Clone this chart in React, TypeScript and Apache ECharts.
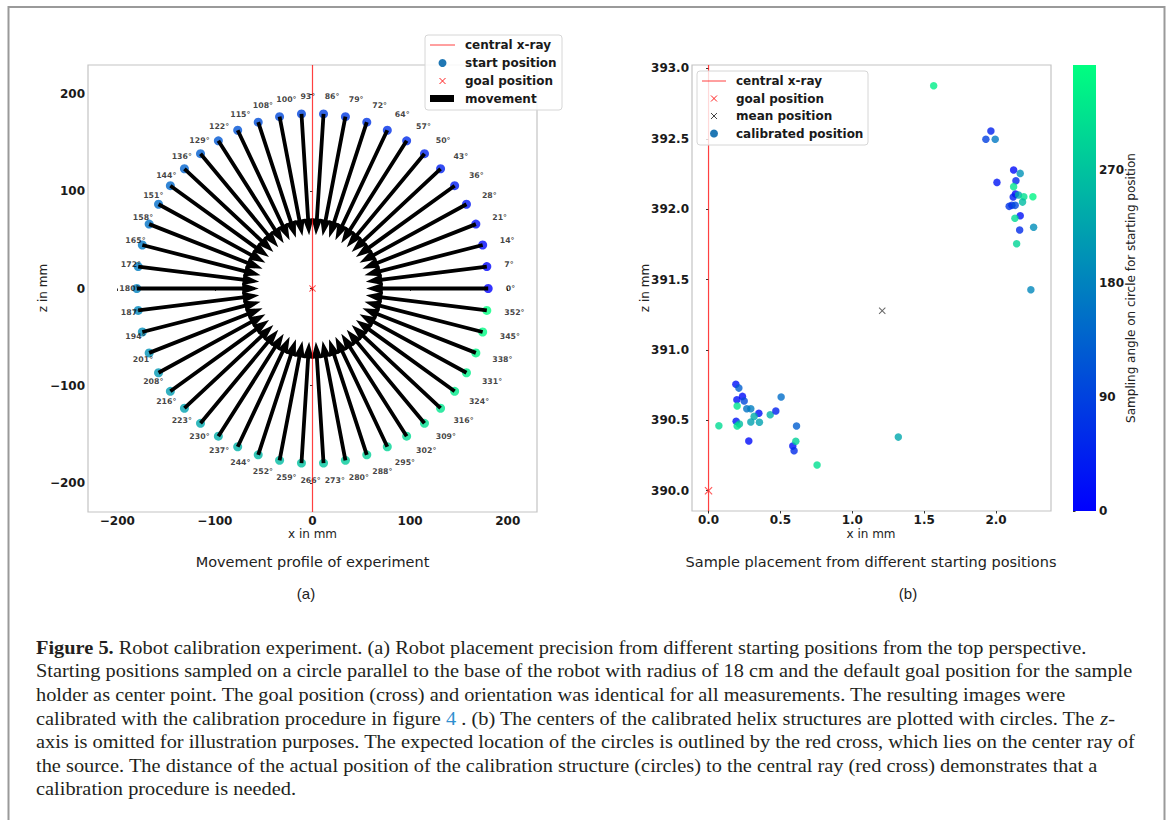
import React, { useEffect, useRef } from "react";
import * as echarts from "echarts";

// ---------- data: panel (a) ----------
const START_ANGLES = [
  0, 7.2, 14.4, 21.6, 28.8, 36, 43.2, 50.4, 57.6, 64.8, 72, 79.2, 86.4, 93.6, 100.8, 108, 115.2,
  122.4, 129.6, 136.8, 144, 151.2, 158.4, 165.6, 172.8, 180, 187.2, 194.4, 201.6, 208.8, 216,
  223.2, 230.4, 237.6, 244.8, 252, 259.2, 266.4, 273.6, 280.8, 288, 295.2, 302.4, 309.6, 316.8,
  324, 331.2, 338.4, 345.6, 352.8,
];
const ANGLE_LABELS = [
  "0°", "7°", "14°", "21°", "28°", "36°", "43°", "50°", "57°", "64°", "72°", "79°", "86°", "93°",
  "100°", "108°", "115°", "122°", "129°", "136°", "144°", "151°", "158°", "165°", "172°", "180°",
  "187°", "194°", "201°", "208°", "216°", "223°", "230°", "237°", "244°", "252°", "259°", "266°",
  "273°", "280°", "288°", "295°", "302°", "309°", "316°", "324°", "331°", "338°", "345°", "352°",
];
const START_RADIUS = 180; // mm
const LABEL_RADIUS = 198; // mm
const HEAD_BASE_RADIUS = 72; // mm
const HEAD_TIP_RADIUS = 55; // mm
const GOAL_A = [0, 0];
const RANGE_A = [-230, 230];
const TICKS_A = [-200, -100, 0, 100, 200];

// ---------- data: panel (b) ----------
const CALIB_X = [
  1.566, 1.964, 1.929, 1.994, 2.122, 2.168, 2.006, 2.138, 2.122, 2.135, 2.119, 2.156, 2.193, 2.256,
  2.184, 2.091, 2.11, 2.133, 2.168, 2.131, 2.261, 2.164, 2.143, 2.242,
  0.072, 0.19, 0.211, 0.197, 0.236, 0.248, 0.199, 0.266, 0.294, 0.35, 0.317, 0.429, 0.468, 0.505,
  0.192, 0.215, 0.199, 0.294, 0.354, 0.612, 0.28, 0.586, 0.595, 0.607, 0.755, 1.32,
];
const CALIB_Z = [
  392.876, 392.555, 392.496, 392.496, 392.278, 392.254, 392.19, 392.202, 392.16, 392.107, 392.086,
  392.1, 392.088, 392.088, 392.05, 392.02, 392.027, 392.027, 391.953, 391.935, 391.871, 391.852,
  391.754, 391.428,
  390.462, 390.756, 390.729, 390.646, 390.67, 390.637, 390.602, 390.582, 390.582, 390.55, 390.528,
  390.54, 390.566, 390.666, 390.493, 390.474, 390.46, 390.488, 390.486, 390.46, 390.353, 390.317,
  390.284, 390.351, 390.183, 390.381,
];
const CALIB_ANGLE = [
  331.2, 43.2, 86.4, 165.6, 14.4, 201.6, 28.8, 50.4, 316.8, 7.2, 36, 230.4, 309.6, 338.4, 259.2, 72,
  64.8, 100.8, 21.6, 302.4, 194.4, 57.6, 295.2, 187.2,
  302.4, 21.6, 129.6, 21.6, 14.4, 100.8, 316.8, 158.4, 172.8, 21.6, 237.6, 244.8, 43.2, 151.2, 28.8,
  259.2, 309.6, 223.2, 223.2, 129.6, 14.4, 21.6, 57.6, 288, 309.6, 230.4,
];
const GOAL_B = [0, 390];
const MEAN_B = [1.208, 391.278];
const RANGE_BX = [-0.115, 2.382];
const RANGE_BZ = [389.856, 393.024];
const TICKS_BX = [0, 0.5, 1, 1.5, 2];
const TICKS_BZ = [390, 390.5, 391, 391.5, 392, 392.5, 393];
const COLORBAR_TICKS = [0, 90, 180, 270];
const ANGLE_MAX = 352.8;
const WINTER = ["#0000ff", "#00ff80"];

const CAPTION_LINES = [
  "{b|Figure 5.} Robot calibration experiment. (a) Robot placement precision from different starting positions from the top perspective.",
  "Starting positions sampled on a circle parallel to the base of the robot with radius of 18 cm and the default goal position for the sample",
  "holder as center point. The goal position (cross) and orientation was identical for all measurements. The resulting images were",
  "calibrated with the calibration procedure in figure {l|4} . (b) The centers of the calibrated helix structures are plotted with circles. The {i|z}-",
  "axis is omitted for illustration purposes. The expected location of the circles is outlined by the red cross, which lies on the center ray of",
  "the source. The distance of the actual position of the calibration structure (circles) to the central ray (red cross) demonstrates that a",
  "calibration procedure is needed.",
];

// ---------- styles ----------
const SANS = "DejaVu Sans";
const SERIF = "Liberation Serif";
const INK = "#1a1a1a";
const TICK_LABEL = { fontFamily: SANS, fontWeight: "bold" as const, fontSize: 12, color: INK };
const CROSS_PATH =
  "path://M0,1 L1,0 L5,4 L9,0 L10,1 L6,5 L10,9 L9,10 L5,6 L1,10 L0,9 L4,5 Z";
const RED_LINE = "rgba(255,0,0,0.75)";
const LEGEND_BLUE = "#1f77b4";
const CAPTION_SIZE = 19;

const fmtSigned = (v: number) => (v < 0 ? "\u2212" + Math.abs(v) : String(v));

function valueAxis(gridIndex: number, range: number[], ticks: number[], formatter: (v: number) => string, margin: number, extra: any = {}) {
  return {
    type: "value",
    gridIndex,
    min: range[0],
    max: range[1],
    axisLine: { show: false },
    splitLine: { show: false },
    axisTick: { show: true, customValues: ticks, length: 2.5, lineStyle: { color: "#333", width: 1 } },
    axisLabel: { customValues: ticks, margin, formatter, ...TICK_LABEL },
    ...extra,
  };
}

function crossLines(cx: number, cy: number, half: number, color: string) {
  return [
    { type: "line", z: 100, shape: { x1: cx - half, y1: cy - half, x2: cx + half, y2: cy + half }, style: { stroke: color, lineWidth: 1 } },
    { type: "line", z: 100, shape: { x1: cx - half, y1: cy + half, x2: cx + half, y2: cy - half }, style: { stroke: color, lineWidth: 1 } },
  ];
}

function legendText(x: number, y: number, text: string) {
  return {
    type: "text",
    z: 101,
    x,
    y,
    style: { text, fontFamily: SANS, fontWeight: "bold", fontSize: 12, fill: INK, align: "left", verticalAlign: "middle" },
  };
}

function plainText(x: number, y: number, text: string, size: number, family = SANS, rotation = 0) {
  return {
    type: "text",
    z: 100,
    x,
    y,
    rotation,
    style: { text, fontFamily: family, fontSize: size, fill: "#222", align: "center", verticalAlign: "middle" },
  };
}

function buildOption() {
  const rad = (d: number) => (d * Math.PI) / 180;
  const startData = START_ANGLES.map((a) => [START_RADIUS * Math.cos(rad(a)), START_RADIUS * Math.sin(rad(a)), a]);
  const labelData = START_ANGLES.map((a) => [LABEL_RADIUS * Math.cos(rad(a)), LABEL_RADIUS * Math.sin(rad(a))]);
  const calibData = CALIB_X.map((x, i) => [x, CALIB_Z[i], CALIB_ANGLE[i]]);

  const arrowRender = (params: any, api: any) => {
    const a = rad(api.value(2));
    const c = Math.cos(a);
    const s = Math.sin(a);
    const p0 = api.coord([START_RADIUS * c, START_RADIUS * s]);
    const pb = api.coord([HEAD_BASE_RADIUS * c, HEAD_BASE_RADIUS * s]);
    const pt = api.coord([HEAD_TIP_RADIUS * c, HEAD_TIP_RADIUS * s]);
    const dx = pt[0] - p0[0];
    const dy = pt[1] - p0[1];
    const len = Math.hypot(dx, dy);
    const nx = -dy / len;
    const ny = dx / len;
    const sw = 1.9;
    const hw = 5.4;
    const pts = [
      [p0[0] + nx * sw, p0[1] + ny * sw],
      [pb[0] + nx * sw, pb[1] + ny * sw],
      [pb[0] + nx * hw, pb[1] + ny * hw],
      [pt[0], pt[1]],
      [pb[0] - nx * hw, pb[1] - ny * hw],
      [pb[0] - nx * sw, pb[1] - ny * sw],
      [p0[0] - nx * sw, p0[1] - ny * sw],
    ];
    return { type: "polygon", shape: { points: pts }, style: { fill: "#000" } };
  };

  const colorbarRender = (params: any, api: any) => {
    const p0 = api.coord([0, 0]);
    const p1 = api.coord([1, ANGLE_MAX]);
    return {
      type: "rect",
      shape: { x: p0[0], y: p1[1], width: p1[0] - p0[0], height: p0[1] - p1[1] },
      style: {
        fill: {
          type: "linear",
          x: 0, y: 1, x2: 0, y2: 0,
          colorStops: [
            { offset: 0, color: WINTER[0] },
            { offset: 1, color: WINTER[1] },
          ],
        },
      },
    };
  };

  // legends (drawn as graphics)
  const legendA = [
    { type: "rect", z: 99, shape: { x: 425, y: 35, width: 137, height: 75, r: 3 }, style: { fill: "rgba(255,255,255,0.85)", stroke: "#d6d6d6", lineWidth: 1 } },
    { type: "line", z: 100, shape: { x1: 430, y1: 45, x2: 455, y2: 45 }, style: { stroke: RED_LINE, lineWidth: 1 } },
    legendText(465, 45, "central x-ray"),
    { type: "circle", z: 100, shape: { cx: 442.5, cy: 63, r: 4 }, style: { fill: LEGEND_BLUE } },
    legendText(465, 63, "start position"),
    ...crossLines(442.5, 81, 3, "#ff2020"),
    legendText(465, 81, "goal position"),
    { type: "rect", z: 100, shape: { x: 430, y: 95, width: 24, height: 7 }, style: { fill: "#000" } },
    legendText(465, 98.5, "movement"),
  ];
  const legendB = [
    { type: "rect", z: 99, shape: { x: 697, y: 71, width: 171, height: 74, r: 3 }, style: { fill: "rgba(255,255,255,0.8)", stroke: "#d6d6d6", lineWidth: 1 } },
    { type: "line", z: 100, shape: { x1: 702, y1: 81, x2: 726, y2: 81 }, style: { stroke: RED_LINE, lineWidth: 1 } },
    legendText(736, 81, "central x-ray"),
    ...crossLines(714, 98.5, 3, "#ff2020"),
    legendText(736, 98.5, "goal position"),
    ...crossLines(714, 116, 3, "#444"),
    legendText(736, 116, "mean position"),
    { type: "circle", z: 100, shape: { cx: 714, cy: 133.5, r: 4 }, style: { fill: LEGEND_BLUE } },
    legendText(736, 133.5, "calibrated position"),
  ];

  const captionTop = 647;
  const captionStep = 23.6;
  const caption = CAPTION_LINES.map((line, i) => ({
    type: "text",
    z: 100,
    x: 36,
    y: captionTop + i * captionStep,
    scaleX: 1.072,
    style: {
      text: line,
      fontFamily: SERIF,
      fontSize: CAPTION_SIZE,
      fill: "#231f20",
      align: "left",
      verticalAlign: "middle",
      rich: {
        b: { fontFamily: SERIF, fontSize: CAPTION_SIZE, fontWeight: "bold", fill: "#231f20" },
        l: { fontFamily: SERIF, fontSize: CAPTION_SIZE, fill: "#2f8fcf" },
        i: { fontFamily: SERIF, fontSize: CAPTION_SIZE, fontStyle: "italic", fill: "#231f20" },
      },
    },
  }));

  return {
    animation: false,
    backgroundColor: "#ffffff",
    grid: [
      { left: 88, top: 65, width: 449, height: 447, show: true, borderColor: "#c4c4c4", borderWidth: 1.2, backgroundColor: "transparent" },
      { left: 692, top: 65, width: 359, height: 446, show: true, borderColor: "#c4c4c4", borderWidth: 1.2, backgroundColor: "transparent" },
      { left: 1073, top: 65, width: 23, height: 446, show: false },
    ],
    xAxis: [
      valueAxis(0, RANGE_A, TICKS_A, fmtSigned, 3),
      valueAxis(1, RANGE_BX, TICKS_BX, (v: number) => v.toFixed(1), 3),
      { type: "value", gridIndex: 2, min: 0, max: 1, show: false },
    ],
    yAxis: [
      valueAxis(0, RANGE_A, TICKS_A, fmtSigned, 3),
      valueAxis(1, RANGE_BZ, TICKS_BZ, (v: number) => v.toFixed(1), 3),
      valueAxis(2, [0, ANGLE_MAX], COLORBAR_TICKS, (v: number) => String(v), 3, { position: "right" }),
    ],
    visualMap: [
      {
        type: "continuous",
        show: false,
        min: 0,
        max: ANGLE_MAX,
        dimension: 2,
        seriesIndex: [0, 8],
        inRange: { color: WINTER },
      },
    ],
    series: [
      // 0 start positions
      { type: "scatter", name: "start position", xAxisIndex: 0, yAxisIndex: 0, data: startData, symbolSize: 9, z: 2 },
      // 1 movement arrows
      { type: "custom", name: "movement", xAxisIndex: 0, yAxisIndex: 0, data: startData, renderItem: arrowRender, z: 3 },
      // 2 angle labels
      {
        type: "scatter",
        xAxisIndex: 0,
        yAxisIndex: 0,
        data: labelData,
        symbolSize: 0.1,
        itemStyle: { color: "transparent" },
        z: 4,
        label: {
          show: true,
          position: "right",
          distance: 0,
          formatter: (p: any) => ANGLE_LABELS[p.dataIndex],
          fontFamily: SANS,
          fontWeight: "bold",
          fontSize: 7.8,
          color: "#111",
        },
      },
      // 3 goal (a)
      { type: "scatter", name: "goal position", xAxisIndex: 0, yAxisIndex: 0, data: [GOAL_A], symbol: CROSS_PATH, symbolSize: 7, itemStyle: { color: "#ff3030" }, z: 5 },
      // 4 central ray (a)
      {
        type: "line", name: "central x-ray", xAxisIndex: 0, yAxisIndex: 0,
        data: [[0, RANGE_A[0]], [0, RANGE_A[1]]], symbol: "none",
        lineStyle: { color: RED_LINE, width: 1.2 }, z: 6,
      },
      // 5 central ray (b)
      {
        type: "line", name: "central x-ray", xAxisIndex: 1, yAxisIndex: 1,
        data: [[0, RANGE_BZ[0]], [0, RANGE_BZ[1]]], symbol: "none",
        lineStyle: { color: RED_LINE, width: 1.2 }, z: 2,
      },
      // 6 goal (b)
      { type: "scatter", name: "goal position", xAxisIndex: 1, yAxisIndex: 1, data: [GOAL_B], symbol: CROSS_PATH, symbolSize: 8, itemStyle: { color: "#ff3030" }, z: 5 },
      // 7 mean (b)
      { type: "scatter", name: "mean position", xAxisIndex: 1, yAxisIndex: 1, data: [MEAN_B], symbol: CROSS_PATH, symbolSize: 7, itemStyle: { color: "#444" }, z: 5 },
      // 8 calibrated positions
      { type: "scatter", name: "calibrated position", xAxisIndex: 1, yAxisIndex: 1, data: calibData, symbolSize: 7.5, z: 4 },
      // 9 colorbar
      { type: "custom", xAxisIndex: 2, yAxisIndex: 2, data: [[0, 0]], renderItem: colorbarRender, silent: true },
    ],
    graphic: [
      { type: "rect", z: 0, shape: { x: 8.5, y: 7, width: 1156, height: 840 }, style: { fill: "none", stroke: "#9a9a9a", lineWidth: 2 } },
      ...legendA,
      ...legendB,
      plainText(312.5, 534, "x in mm", 12),
      plainText(42.5, 288, "z in mm", 12, SANS, Math.PI / 2),
      plainText(312.5, 562, "Movement profile of experiment", 14.5),
      plainText(306, 593, "(a)", 15, "Liberation Sans"),
      plainText(871, 534, "x in mm", 12),
      plainText(645, 288, "z in mm", 12, SANS, Math.PI / 2),
      plainText(871, 562, "Sample placement from different starting positions", 14.5),
      plainText(908, 593, "(b)", 15, "Liberation Sans"),
      plainText(1131, 288, "Sampling angle on circle for starting position", 12, SANS, Math.PI / 2),
      ...caption,
    ],
  };
}

export default function App() {
  const ref = useRef<HTMLDivElement>(null);
  useEffect(() => {
    if (!ref.current) return;
    const chart = echarts.init(ref.current, null, { renderer: "svg" });
    chart.setOption(buildOption() as any);
    return () => chart.dispose();
  }, []);
  return (
    <div
      ref={ref}
      style={{ position: "absolute", left: 0, top: 0, width: 1171, height: 820, background: "#fff" }}
    />
  );
}
